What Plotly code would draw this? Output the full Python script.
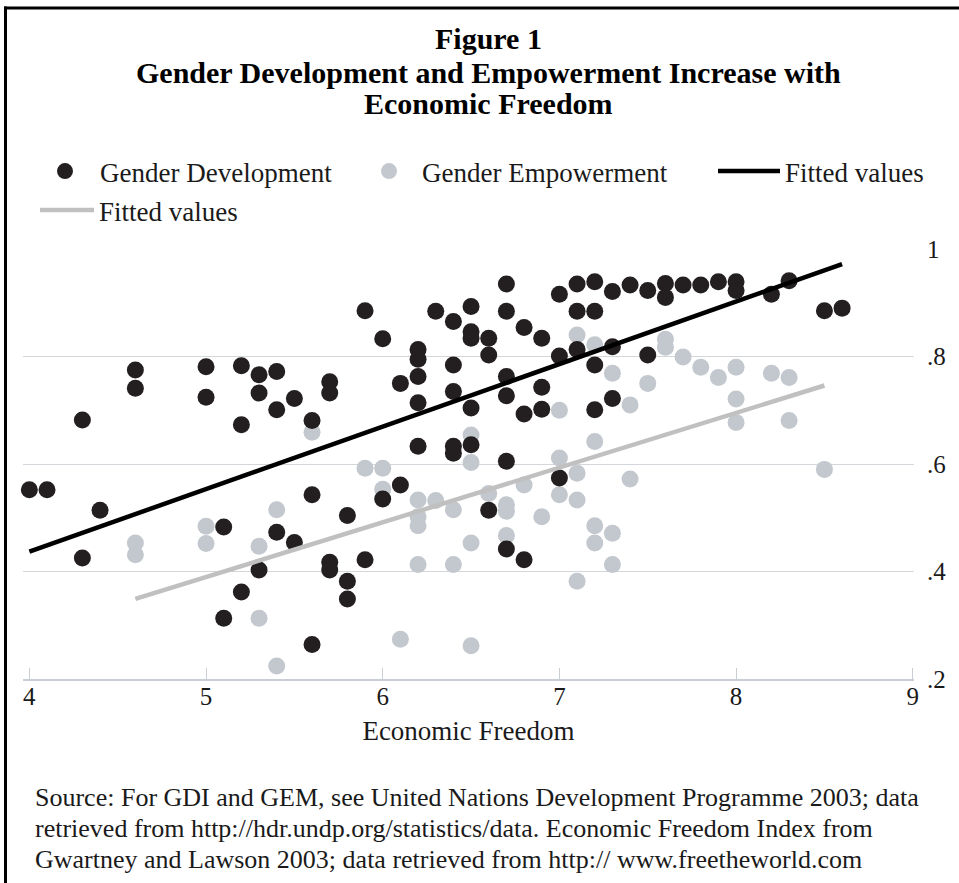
import plotly.graph_objects as go

# ---- data ----
gdi_x = [4.0, 4.1, 4.3, 4.4, 4.3, 4.6, 4.6, 5.0, 5.0, 5.1, 5.1, 5.2, 5.2, 5.2,
         5.3, 5.3, 5.3, 5.4, 5.4, 5.4, 5.5, 5.5, 5.6, 5.6, 5.6, 5.7, 5.7, 5.7,
         5.7, 5.8, 5.8, 5.8, 5.9, 5.9, 6.0, 6.0, 6.1, 6.1, 6.2, 6.2, 6.2, 6.2,
         6.2, 6.3, 6.4, 6.4, 6.4, 6.4, 6.4, 6.5, 6.5, 6.5, 6.5, 6.5, 6.6, 6.6,
         6.6, 6.7, 6.7, 6.7, 6.7, 6.7, 6.7, 6.8, 6.8, 6.8, 6.9, 6.9, 6.9, 7.0,
         7.0, 7.0, 7.1, 7.1, 7.1, 7.2, 7.2, 7.2, 7.2, 7.3, 7.3, 7.3, 7.4, 7.5,
         7.5, 7.6, 7.6, 7.7, 7.8, 7.9, 8.0, 8.0, 8.2, 8.3, 8.5, 8.6]
gdi_y = [0.552, 0.552, 0.682, 0.514, 0.425, 0.775, 0.741, 0.781, 0.724, 0.483,
         0.313, 0.783, 0.673, 0.362, 0.766, 0.732, 0.403, 0.772, 0.701, 0.473,
         0.722, 0.454, 0.681, 0.543, 0.264, 0.753, 0.732, 0.417, 0.403, 0.504,
         0.382, 0.349, 0.885, 0.422, 0.833, 0.535, 0.750, 0.561, 0.813, 0.795,
         0.763, 0.714, 0.633, 0.884, 0.865, 0.784, 0.735, 0.633, 0.620, 0.893,
         0.846, 0.834, 0.704, 0.636, 0.834, 0.803, 0.514, 0.935, 0.884, 0.763,
         0.727, 0.605, 0.442, 0.854, 0.693, 0.422, 0.834, 0.743, 0.702, 0.916,
         0.801, 0.574, 0.935, 0.884, 0.813, 0.939, 0.884, 0.784, 0.701, 0.921,
         0.818, 0.722, 0.933, 0.923, 0.803, 0.936, 0.910, 0.933, 0.933, 0.939,
         0.939, 0.923, 0.916, 0.941, 0.885, 0.890]

gem_x = [4.6, 4.6, 5.0, 5.0, 5.3, 5.3, 5.4, 5.4, 5.6, 5.9, 6.0, 6.0, 6.1, 6.2,
         6.2, 6.2, 6.2, 6.3, 6.4, 6.4, 6.5, 6.5, 6.5, 6.5, 6.6, 6.7, 6.7, 6.7,
         6.8, 6.9, 7.0, 7.0, 7.0, 7.1, 7.1, 7.1, 7.1, 7.2, 7.2, 7.2, 7.2, 7.3,
         7.3, 7.3, 7.4, 7.4, 7.5, 7.6, 7.6, 7.7, 7.8, 7.9, 8.0, 8.0, 8.0, 8.2,
         8.3, 8.3, 8.5]
gem_y = [0.453, 0.431, 0.484, 0.452, 0.447, 0.313, 0.515, 0.224, 0.659, 0.592,
         0.592, 0.553, 0.274, 0.533, 0.502, 0.485, 0.413, 0.532, 0.515, 0.413,
         0.654, 0.603, 0.453, 0.262, 0.545, 0.524, 0.512, 0.467, 0.561, 0.502,
         0.700, 0.611, 0.543, 0.840, 0.583, 0.533, 0.382, 0.822, 0.642, 0.485,
         0.453, 0.769, 0.471, 0.413, 0.710, 0.572, 0.750, 0.832, 0.817, 0.799,
         0.780, 0.761, 0.780, 0.721, 0.677, 0.769, 0.761, 0.681, 0.590]

fit_gdi_x = [4.0, 8.6]
fit_gdi_y = [0.437, 0.972]
fit_gem_x = [4.6, 8.5]
fit_gem_y = [0.349, 0.746]

x_ticks = [4, 5, 6, 7, 8, 9]
y_ticks = [0.2, 0.4, 0.6, 0.8, 1.0]
y_tick_text = [".2", ".4", ".6", ".8", "1"]

title_lines = ["Figure 1",
               "Gender Development and Empowerment Increase with",
               "Economic Freedom"]
source_lines = [
    "Source: For GDI and GEM, see United Nations Development Programme 2003; data",
    "retrieved from http://hdr.undp.org/statistics/data. Economic Freedom Index from",
    "Gwartney and Lawson 2003; data retrieved from http:// www.freetheworld.com",
]

# ---- styling ----
FONT = "Liberation Serif"
BLACK = "#231f20"
GREY_PT = "#c3c8ce"
GREY_LN = "#c0c0c0"
TXT = "#1a1a1a"

W, H = 959, 883
ML, MR, MT, MB = 23, 45, 249, 204
PW = W - ML - MR
PH = H - MT - MB


def px_x(px):
    return (px - ML) / PW


def px_y(py):
    return (H - MB - py) / PH


fig = go.Figure()

fig.add_trace(go.Scatter(
    x=gem_x, y=gem_y, mode="markers", name="Gender Empowerment",
    marker=dict(color=GREY_PT, size=17, line=dict(width=0)),
    legend="legend2", cliponaxis=False))
fig.add_trace(go.Scatter(
    x=gdi_x, y=gdi_y, mode="markers", name="Gender Development",
    marker=dict(color=BLACK, size=17, line=dict(width=0)),
    legend="legend", cliponaxis=False))
fig.add_trace(go.Scatter(
    x=fit_gem_x, y=fit_gem_y, mode="lines", name="Fitted values",
    line=dict(color=GREY_LN, width=4.5), legend="legend4"))
fig.add_trace(go.Scatter(
    x=fit_gdi_x, y=fit_gdi_y, mode="lines", name="Fitted values",
    line=dict(color="#000000", width=4.5), legend="legend3"))

annotations = []
title_y = [38, 72, 103]
for txt, yy in zip(title_lines, title_y):
    annotations.append(dict(
        text="<b>" + txt + "</b>", x=px_x(489), y=px_y(yy), xref="paper", yref="paper",
        xanchor="center", yanchor="middle", showarrow=False,
        font=dict(family=FONT, size=30, color="#000000")))

src_y = [797, 828, 859]
for txt, yy in zip(source_lines, src_y):
    annotations.append(dict(
        text=txt, x=px_x(33), y=px_y(yy), xref="paper", yref="paper",
        xanchor="left", yanchor="middle", showarrow=False,
        font=dict(family=FONT, size=26, color=TXT)))

shapes = [
    dict(type="line", xref="paper", yref="paper",
         x0=px_x(5.5), x1=px_x(5.5), y0=px_y(6.5), y1=px_y(900),
         line=dict(color="#000000", width=3)),
    dict(type="line", xref="paper", yref="paper",
         x0=px_x(4), x1=px_x(975), y0=px_y(8), y1=px_y(8),
         line=dict(color="#000000", width=3)),
]


def leg(left_px, top_px, itemwidth):
    return dict(x=px_x(left_px), y=px_y(top_px), xanchor="left", yanchor="top",
                orientation="h", itemwidth=itemwidth, bgcolor="rgba(0,0,0,0)",
                font=dict(family=FONT, size=27, color=TXT), itemsizing="trace")


fig.update_layout(
    width=W, height=H,
    margin=dict(l=ML, r=MR, t=MT, b=MB, pad=0),
    paper_bgcolor="white", plot_bgcolor="white",
    font=dict(family=FONT, color=TXT),
    showlegend=True,
    legend=leg(30, 147, 60),
    legend2=leg(356, 147, 56),
    legend3=leg(713, 147, 62),
    legend4=leg(35, 186, 54),
    annotations=annotations,
    shapes=shapes,
    xaxis=dict(
        range=[3.964, 9.007], tickvals=x_ticks, ticktext=[str(v) for v in x_ticks],
        showgrid=False, zeroline=False, showline=True, linecolor="#c9ced4", linewidth=1.5,
        ticks="inside", ticklen=11, tickcolor="#c9ced4", tickwidth=1,
        ticklabelstandoff=-6,
        tickfont=dict(family=FONT, size=25, color=TXT),
        title=dict(text="Economic Freedom", standoff=12,
                   font=dict(family=FONT, size=27, color=TXT))),
    yaxis=dict(
        range=[0.2, 1.0], side="right", tickvals=y_ticks, ticktext=y_tick_text,
        showgrid=True, gridcolor="#d3d6db", gridwidth=1.2, zeroline=False,
        showline=False, ticks="", ticklabelstandoff=12,
        tickfont=dict(family=FONT, size=25, color=TXT)),
)

fig.write_html("out.html",
               config={"displayModeBar": False},
               post_script="document.body.style.margin='0px';"
                           "document.body.style.overflow='hidden';")
